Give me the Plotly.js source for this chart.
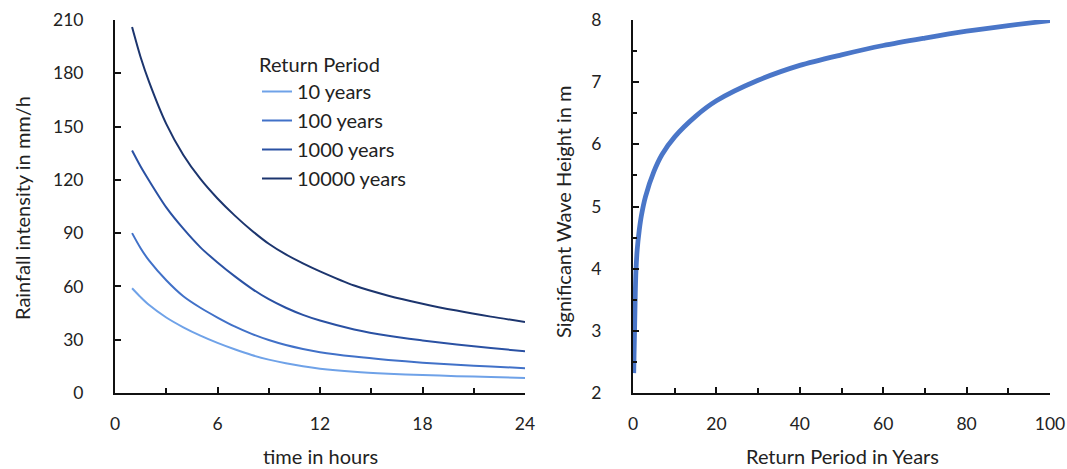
<!DOCTYPE html>
<html>
<head>
<meta charset="utf-8">
<script src="https://cdn.plot.ly/plotly-3.0.1.min.js"></script>
<style>html,body{margin:0;padding:0;background:#fff;}#chart{width:1067px;height:469px;}</style>
</head>
<body>
<div id="chart"></div>
<script>
// ---- Left chart: rainfall intensity vs duration ----
const hours = [1, 1.5, 2, 3, 4, 5, 6, 7, 8, 9, 10, 11, 12, 14, 16, 18, 20, 22, 24];
const rain10 = [59, 54, 49.5, 42.5, 37, 32.3, 28.2, 24.6, 21.4, 18.8, 16.7, 15, 13.7, 12, 10.9, 10.1, 9.5, 9, 8.5];
const rain100 = [90, 81.5, 74.5, 63.5, 54.5, 48, 42.5, 37.5, 33.3, 29.8, 27, 24.8, 23, 20.5, 18.6, 17.1, 15.9, 14.9, 14];
const rain1000 = [136.5, 127.5, 119.5, 104.5, 92.5, 82, 73.5, 65.8, 58.8, 52.8, 48, 44, 40.8, 35.8, 32.2, 29.6, 27.3, 25.3, 23.5];
const rain10000 = [206, 189, 175, 151.5, 134, 120.5, 109.5, 100, 91.5, 84, 78, 73, 68.5, 60.5, 54.8, 50.3, 46.4, 43, 40];
const seriesNames = ["10 years", "100 years", "1000 years", "10000 years"];

// ---- Right chart: significant wave height vs return period ----
const returnYears = [0.17, 0.25, 0.4, 0.55, 0.7, 1, 1.5, 2, 3, 5, 7, 10, 15, 20, 30, 40, 50, 60, 70, 80, 90, 100];
const waveHeight = [2.32, 2.6, 3.1, 3.6, 3.95, 4.3, 4.62, 4.85, 5.16, 5.56, 5.84, 6.12, 6.45, 6.7, 7.03, 7.27, 7.44, 7.59, 7.71, 7.82, 7.91, 7.99];

const colors = ["#6fa2e8", "#4171c8", "#2a51a3", "#1c356e"];
const FONT = "Lato, 'Open Sans', sans-serif";
const TXT = "#222";

const rainSeries = [rain10, rain100, rain1000, rain10000];
const traces = rainSeries.map((ys, i) => ({
  type: "scatter", mode: "lines", x: hours, y: ys, name: seriesNames[i],
  line: {color: colors[i], width: 2, shape: "spline", smoothing: 0.8},
  xaxis: "x", yaxis: "y", showlegend: true
}));
traces.push({
  type: "scatter", mode: "lines", x: returnYears, y: waveHeight, name: "Hs",
  line: {color: "#4a76c8", width: 4.8, shape: "spline", smoothing: 0.8},
  xaxis: "x2", yaxis: "y2", showlegend: false
});

const W = 1067, H = 469;
const px = v => v / W, py = v => 1 - v / H;

const axisBase = {
  showgrid: false, zeroline: false, showline: true, linecolor: "#111", linewidth: 2,
  ticks: "inside", ticklen: 6, tickwidth: 2, tickcolor: "#111",
  tickfont: {family: FONT, size: 17.5, color: TXT}, fixedrange: true
};

const layout = {
  width: W, height: H,
  margin: {l: 0, r: 0, t: 0, b: 0},
  paper_bgcolor: "#fff", plot_bgcolor: "#fff",
  font: {family: FONT, color: TXT},
  showlegend: true,
  legend: {
    x: px(257), y: py(46), xanchor: "left", yanchor: "top",
    bgcolor: "rgba(0,0,0,0)",
    title: {text: "Return Period", font: {family: FONT, size: 20, color: TXT}},
    font: {family: FONT, size: 20, color: TXT},
    tracegroupgap: 0
  },
  xaxis: Object.assign({}, axisBase, {
    domain: [px(115), px(525)], range: [0, 24], tickmode: "array",
    tickvals: [0, 6, 12, 18, 24], ticklabelstandoff: 14,
    minor: {tickvals: [3, 9, 15, 21], ticks: "inside", ticklen: 5, tickwidth: 2, tickcolor: "#111", showgrid: false},
    anchor: "y"
  }),
  yaxis: Object.assign({}, axisBase, {
    domain: [py(393), py(20)], range: [0, 210], tickmode: "array",
    tickvals: [0, 30, 60, 90, 120, 150, 180, 210], ticklabelstandoff: 26,
    anchor: "x"
  }),
  xaxis2: Object.assign({}, axisBase, {
    domain: [px(633), px(1050)], range: [0, 100], tickmode: "array",
    tickvals: [0, 20, 40, 60, 80, 100], ticklabelstandoff: 14,
    minor: {tickvals: [10, 30, 50, 70, 90], ticks: "inside", ticklen: 5, tickwidth: 2, tickcolor: "#111", showgrid: false},
    anchor: "y2"
  }),
  yaxis2: Object.assign({}, axisBase, {
    domain: [py(393), py(20)], range: [2, 8], tickmode: "array",
    tickvals: [2, 3, 4, 5, 6, 7, 8], ticklabelstandoff: 26,
    minor: {tickvals: [2.5, 3.5, 4.5, 5.5, 6.5, 7.5], ticks: "inside", ticklen: 4, tickwidth: 2, tickcolor: "#111", showgrid: false},
    anchor: "x2"
  }),
  annotations: [
    {text: "time in hours", xref: "paper", yref: "paper", x: px(320), y: py(456), xanchor: "center", yanchor: "middle", showarrow: false, font: {family: FONT, size: 20, color: TXT}},
    {text: "Return Period in Years", xref: "paper", yref: "paper", x: px(842), y: py(456), xanchor: "center", yanchor: "middle", showarrow: false, font: {family: FONT, size: 20, color: TXT}},
    {text: "Rainfall intensity in mm/h", xref: "paper", yref: "paper", x: px(22), y: py(208), xanchor: "center", yanchor: "middle", textangle: -90, showarrow: false, font: {family: FONT, size: 20, color: TXT}},
    {text: "Significant Wave Height in m", xref: "paper", yref: "paper", x: px(563), y: py(212), xanchor: "center", yanchor: "middle", textangle: -90, showarrow: false, font: {family: FONT, size: 20, color: TXT}}
  ]
};

Plotly.newPlot("chart", traces, layout, {displayModeBar: false, staticPlot: true});
</script>
</body>
</html>
